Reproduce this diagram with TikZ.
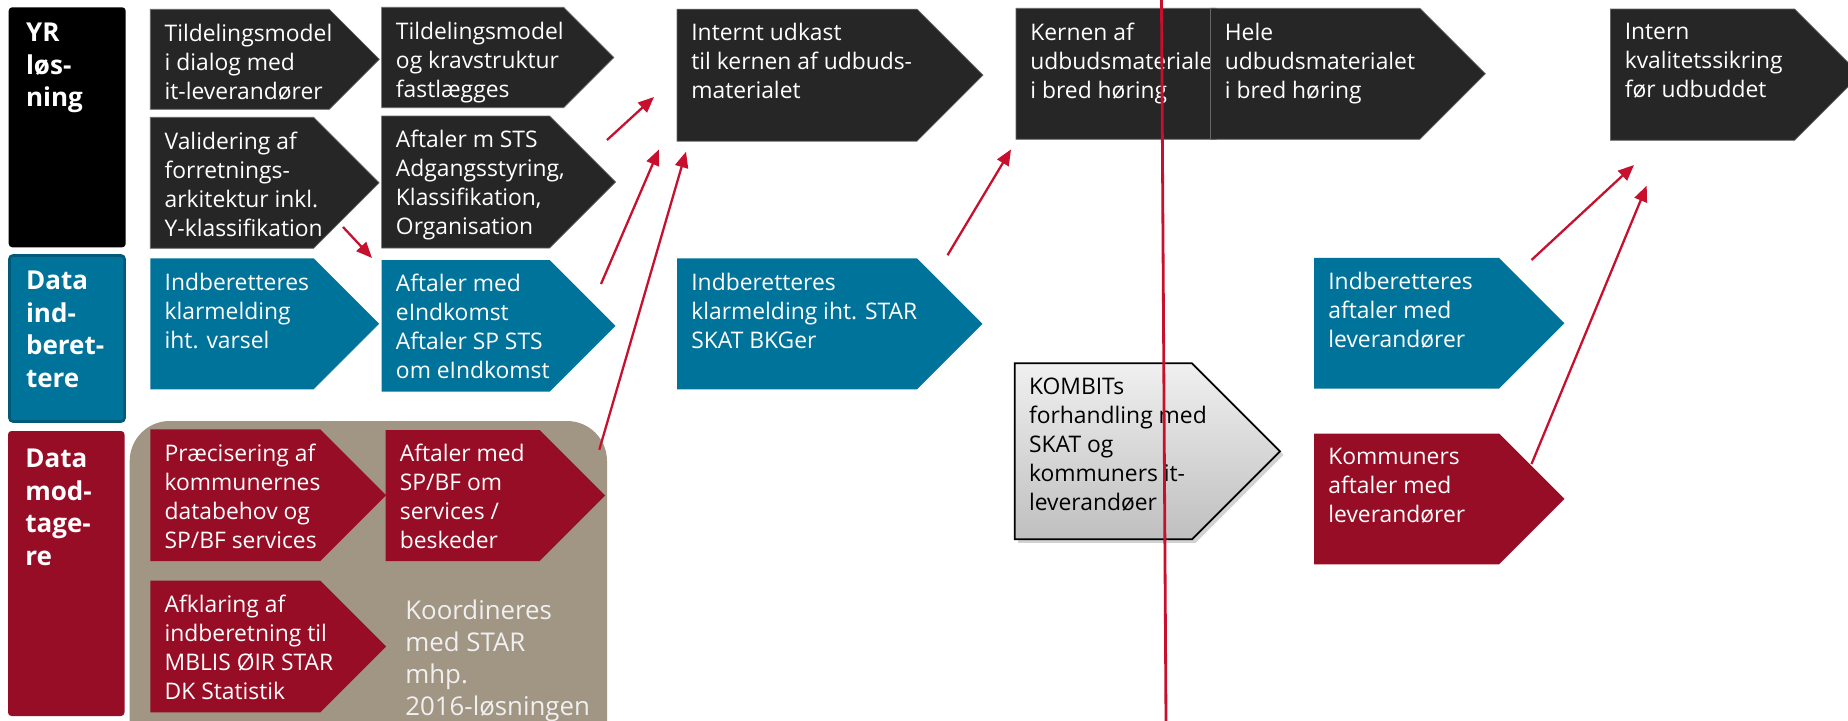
\documentclass[tikz,border=0pt]{standalone}
\usepackage{fontspec}
\setmainfont{Open Sans}
\usetikzlibrary{arrows.meta, shadows}

\definecolor{chevblack}{HTML}{262626}
\definecolor{laneteal}{HTML}{00739A}
\definecolor{tealedge}{HTML}{005A78}
\definecolor{lanered}{HTML}{970D25}
\definecolor{taupe}{HTML}{A19584}
\definecolor{arrowred}{HTML}{C8102E}

\newcommand{\boxfont}{\fontsize{13}{16.5}\selectfont}
\newcommand{\lanefont}{\fontsize{14.8}{18.5}\selectfont\bfseries}
\newcommand{\notefont}{\fontsize{14.7}{18.2}\selectfont}

\newcommand{\chevbox}[8][]{%
  \path[#2] (#4,#5) -- ++(#6,0) -- ++(#7/2,#7/2) -- ++(-#7/2,#7/2) -- ++(-#6,0) -- cycle;
  \node[txt,#1] (#3) at (#4+14,#5+14) {#8};
}

\begin{document}
\begin{tikzpicture}[x=0.2mm, y=-0.2mm,
    txt/.style={anchor=north west, inner sep=0pt, align=left, text=white, font=\boxfont},
    lanetxt/.style={anchor=north west, inner sep=0pt, align=left, text=white, font=\lanefont},
    dark/.style={fill=chevblack, draw=black!60, line width=0.4pt},
    tealchev/.style={fill=laneteal},
    redchev/.style={fill=lanered},
    greychev/.style={shade, top color=gray!12, bottom color=gray!50, draw=black, line width=1pt,
      drop shadow={shadow xshift=2pt, shadow yshift=-2pt, opacity=0.35}},
    redarrow/.style={draw=arrowred, line width=1.3pt, -{Triangle[length=9pt,width=7.5pt]}}]
    \useasboundingbox (0,0) rectangle (1848,721);
    \clip (0,0) rectangle (1848,721);
    \fill[white] (0,0) rectangle (1848,721);

    \path[fill=black, rounded corners=2pt] (8.7,7.3) rectangle (125.7,247.3);
    \node[lanetxt] (yr) at (25.7,23) {YR\\løs-\\ning};
    \path[fill=laneteal, draw=tealedge, line width=1.5pt, rounded corners=2pt] (9.5,255.5) rectangle (124.5,421.5);
    \node[lanetxt] (indb) at (25.7,271) {Data\\ind-\\beret-\\tere};
    \path[fill=lanered, rounded corners=2pt] (8,431) rectangle (124.5,716);
    \node[lanetxt] (modt) at (25,449) {Data\\mod-\\tage-\\re};

    \path[fill=taupe, rounded corners=8mm] (129.7,421) rectangle (607,780);

    \chevbox{dark}{dialog}{150.3}{9.3}{179}{100}{Tildelingsmodel\\i dialog med\\it-leverandører}
    \chevbox{dark}{valid}{150.3}{117.3}{163.3}{131}{Validering af\\forretnings-\\arkitektur inkl.\\Y-klassifikation}
    \chevbox{tealchev}{klar}{150.3}{258.3}{163.3}{131}{Indberetteres\\klarmelding\\iht. varsel}
    \chevbox{dark}{krav}{381.6}{7.3}{182}{100.4}{Tildelingsmodel\\og kravstruktur\\fastlægges}
    \chevbox{dark}{sts}{381.6}{116}{168}{132}{Aftaler m STS\\Adgangsstyring,\\Klassifikation,\\Organisation}
    \chevbox{tealchev}{eind}{381.6}{260}{168}{131.7}{Aftaler med\\eIndkomst\\Aftaler SP STS\\om eIndkomst}
    \chevbox{redchev}{praec}{150.3}{429.3}{170}{131.7}{Præcisering af\\kommunernes\\databehov og\\SP/BF services}
    \chevbox{redchev}{spbf}{385.5}{430}{154.2}{131}{Aftaler med\\SP/BF om\\services /\\beskeder}
    \chevbox{redchev}{afkl}{150.3}{580.7}{170}{131.6}{Afklaring af\\indberetning til\\MBLIS ØIR STAR\\DK Statistik}
    \node[txt, font=\notefont, text=white!94!black] (koord) at (405,600) {Koordineres\\med STAR\\mhp.\\2016-løsningen};

    \chevbox{dark}{udkast}{677}{9.2}{240}{132}{Internt udkast\\til kernen af udbuds-\\materialet}
    \chevbox{tealchev}{bkg}{677}{258.4}{240}{131}{Indberetteres\\klarmelding iht. STAR\\SKAT BKGer}
    \chevbox{dark}{kerne}{1016}{8.3}{200}{131}{Kernen af\\udbudsmateriale\\i bred høring}
    \chevbox{dark}{hele}{1210.5}{8.3}{209.3}{131}{Hele\\udbudsmaterialet\\i bred høring}
    \chevbox[text=black]{greychev}{kombit}{1014.7}{363.3}{177.3}{176}{KOMBITs\\forhandling med\\SKAT og\\kommuners it-\\leverandøer}
    \chevbox{tealchev}{lev}{1314}{257.8}{185}{130.7}{Indberetteres\\aftaler med\\leverandører}
    \chevbox{redchev}{komlev}{1314}{433.5}{185}{130.8}{Kommuners\\aftaler med\\leverandører}
    \chevbox{dark}{intern}{1610.4}{9}{184.2}{131.3}{Intern\\kvalitetssikring\\før udbuddet}

    \coordinate (valid-out) at (343,227);
    \coordinate (eind-in) at (372,258);
    \coordinate (krav-out) at (607,140);
    \coordinate (udkast-a) at (654,97);
    \coordinate (eind-out) at (601,284);
    \coordinate (udkast-b) at (659,149.4);
    \coordinate (spbf-out) at (599.3,449.7);
    \coordinate (udkast-c) at (686,151.7);
    \coordinate (bkg-out) at (947.5,255.2);
    \coordinate (kerne-in) at (1011,149.4);
    \coordinate (lev-out) at (1531.5,260);
    \coordinate (intern-a) at (1634,165);
    \coordinate (komlev-out) at (1531.5,464);
    \coordinate (intern-b) at (1646.7,185.7);
    \draw[redarrow] (valid-out) -- (eind-in);
    \draw[redarrow] (krav-out) -- (udkast-a);
    \draw[redarrow] (eind-out) -- (udkast-b);
    \draw[redarrow] (spbf-out) -- (udkast-c);
    \draw[redarrow] (bkg-out) -- (kerne-in);
    \draw[redarrow] (lev-out) -- (intern-a);
    \draw[redarrow] (komlev-out) -- (intern-b);

    \coordinate (now-top) at (1161.5,0);
    \coordinate (now-bot) at (1166,721);
    \draw[arrowred, line width=1.6pt] (now-top) -- (now-bot);
\end{tikzpicture}
\end{document}
